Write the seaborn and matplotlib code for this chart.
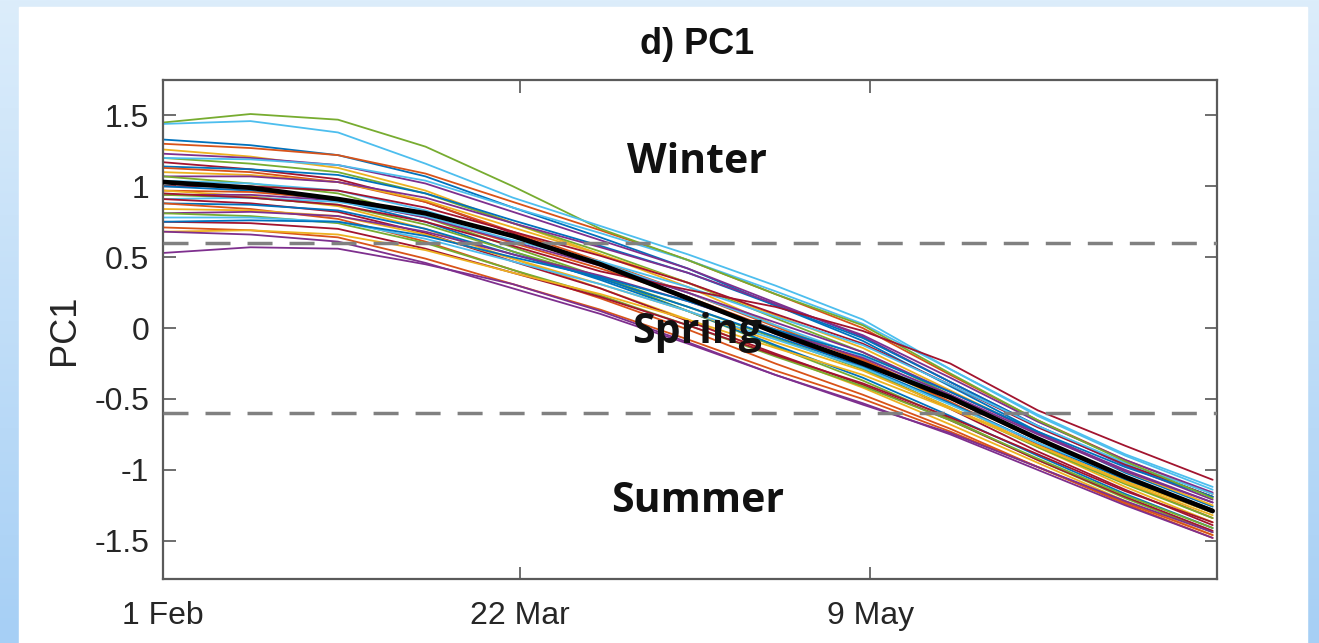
import matplotlib
matplotlib.use('Agg')
import matplotlib.pyplot as plt
from matplotlib.patches import Rectangle
from matplotlib.colors import LinearSegmentedColormap
import seaborn as sns
import numpy as np
import pandas as pd

# sample days since 1 Feb
days = [0, 12, 24, 36, 48, 60, 72, 84, 96, 108, 120, 132, 144]

# ensemble mean (thick black line)
pc1_mean = [1.03, 0.99, 0.91, 0.81, 0.65, 0.45, 0.21, -0.03, -0.25, -0.49, -0.78, -1.05, -1.29]

# ensemble members
pc1_members = [
    [1.33, 1.29, 1.22, 1.07, 0.85, 0.64, 0.42, 0.16, -0.09, -0.41, -0.73, -1.02, -1.26],
    [1.30, 1.27, 1.22, 1.09, 0.89, 0.69, 0.48, 0.24, 0.00, -0.33, -0.65, -0.93, -1.17],
    [1.26, 1.21, 1.13, 0.97, 0.74, 0.52, 0.29, 0.02, -0.23, -0.53, -0.84, -1.12, -1.37],
    [1.23, 1.20, 1.15, 1.02, 0.82, 0.62, 0.42, 0.18, -0.06, -0.38, -0.69, -0.97, -1.21],
    [1.20, 1.16, 1.10, 0.95, 0.74, 0.54, 0.32, 0.07, -0.17, -0.47, -0.78, -1.06, -1.30],
    [1.20, 1.19, 1.15, 1.04, 0.85, 0.67, 0.48, 0.26, 0.03, -0.29, -0.61, -0.89, -1.12],
    [1.17, 1.12, 1.05, 0.89, 0.67, 0.45, 0.22, -0.04, -0.28, -0.57, -0.87, -1.14, -1.39],
    [1.14, 1.12, 1.08, 0.95, 0.76, 0.58, 0.39, 0.16, -0.07, -0.38, -0.69, -0.96, -1.19],
    [1.13, 1.10, 1.03, 0.89, 0.68, 0.47, 0.25, 0.01, -0.23, -0.52, -0.82, -1.09, -1.34],
    [1.10, 1.08, 1.03, 0.90, 0.71, 0.52, 0.32, 0.09, -0.14, -0.44, -0.74, -1.01, -1.25],
    [1.07, 1.07, 1.03, 0.92, 0.74, 0.57, 0.39, 0.17, -0.05, -0.35, -0.66, -0.93, -1.16],
    [1.07, 1.02, 0.95, 0.78, 0.57, 0.36, 0.12, -0.13, -0.37, -0.64, -0.93, -1.20, -1.44],
    [1.04, 1.02, 0.97, 0.83, 0.64, 0.46, 0.25, 0.02, -0.20, -0.49, -0.78, -1.05, -1.28],
    [1.00, 1.00, 0.97, 0.85, 0.68, 0.51, 0.32, 0.10, -0.11, -0.40, -0.70, -0.96, -1.19],
    [1.00, 0.97, 0.90, 0.75, 0.54, 0.34, 0.12, -0.12, -0.35, -0.62, -0.90, -1.17, -1.41],
    [0.97, 0.96, 0.91, 0.78, 0.60, 0.42, 0.22, -0.01, -0.22, -0.50, -0.79, -1.05, -1.28],
    [0.97, 0.93, 0.86, 0.70, 0.49, 0.28, 0.06, -0.19, -0.42, -0.68, -0.95, -1.22, -1.46],
    [0.94, 0.94, 0.90, 0.78, 0.61, 0.44, 0.25, 0.04, -0.17, -0.45, -0.74, -1.00, -1.23],
    [0.94, 0.92, 0.87, 0.73, 0.54, 0.36, 0.15, -0.07, -0.29, -0.56, -0.84, -1.10, -1.34],
    [0.91, 0.92, 0.89, 0.79, 0.62, 0.47, 0.29, 0.08, -0.12, -0.40, -0.69, -0.95, -1.17],
    [0.91, 0.88, 0.82, 0.67, 0.47, 0.28, 0.05, -0.18, -0.40, -0.65, -0.93, -1.19, -1.43],
    [0.88, 0.87, 0.83, 0.70, 0.52, 0.35, 0.15, -0.06, -0.27, -0.53, -0.81, -1.07, -1.30],
    [0.88, 0.84, 0.77, 0.61, 0.41, 0.21, -0.01, -0.25, -0.47, -0.71, -0.98, -1.24, -1.48],
    [0.84, 0.83, 0.79, 0.66, 0.49, 0.31, 0.12, -0.10, -0.30, -0.56, -0.83, -1.09, -1.32],
    [0.81, 0.82, 0.79, 0.68, 0.52, 0.37, 0.19, -0.02, -0.21, -0.47, -0.75, -1.01, -1.23],
    [0.81, 0.79, 0.74, 0.60, 0.41, 0.23, 0.02, -0.20, -0.41, -0.65, -0.92, -1.18, -1.41],
    [0.78, 0.78, 0.75, 0.63, 0.47, 0.31, 0.12, -0.08, -0.28, -0.54, -0.81, -1.05, -1.29],
    [0.75, 0.74, 0.70, 0.56, 0.39, 0.22, 0.02, -0.19, -0.39, -0.63, -0.89, -1.15, -1.37],
    [0.75, 0.76, 0.75, 0.65, 0.50, 0.36, 0.19, -0.01, -0.19, -0.45, -0.73, -0.98, -1.19],
    [0.71, 0.69, 0.64, 0.49, 0.31, 0.13, -0.08, -0.30, -0.50, -0.73, -0.98, -1.23, -1.46],
    [0.68, 0.69, 0.66, 0.55, 0.39, 0.24, 0.06, -0.14, -0.33, -0.57, -0.83, -1.08, -1.30],
    [0.68, 0.66, 0.61, 0.46, 0.28, 0.10, -0.11, -0.33, -0.53, -0.75, -1.00, -1.25, -1.48],
]

# members standing apart from the bundle (green top, cyan top, purple bottom, red late top)
pc1_outliers = [
    [1.45, 1.51, 1.47, 1.28, 1.00, 0.70, 0.48, 0.24, 0.02, -0.32, -0.65, -0.94, -1.20],
    [1.44, 1.46, 1.38, 1.16, 0.92, 0.72, 0.52, 0.30, 0.06, -0.29, -0.62, -0.90, -1.14],
    [0.53, 0.57, 0.56, 0.45, 0.31, 0.12, -0.10, -0.33, -0.54, -0.74, -0.98, -1.22, -1.44],
    [0.95, 0.92, 0.87, 0.75, 0.58, 0.40, 0.27, 0.15, -0.02, -0.25, -0.58, -0.83, -1.07],
]

tick_days = [0, 49, 97]
tick_labels = ['1 Feb', '22 Mar', '9 May']
y_ticks = [-1.5, -1, -0.5, 0, 0.5, 1, 1.5]
y_tick_labels = ['-1.5', '-1', '-0.5', '0', '0.5', '1', '1.5']
season_names = ['Winter', 'Spring', 'Summer']
season_pc1 = [1.17, -0.03, -1.22]
season_day = 73.3
threshold = 0.6

matlab_colors = ['#0072BD', '#D95319', '#EDB120', '#7E2F8E', '#77AC30', '#4DBEEE', '#A2142F']
outlier_colors = ['#77AC30', '#4DBEEE', '#7E2F8E', '#A2142F']

# long table for seaborn
rows = []
palette = {}
for i, vals in enumerate(pc1_members):
    name = 'm%02d' % i
    palette[name] = matlab_colors[i % len(matlab_colors)]
    for d, v in zip(days, vals):
        rows.append({'day': d, 'pc1': v, 'member': name})
for i, vals in enumerate(pc1_outliers):
    name = 'o%02d' % i
    palette[name] = outlier_colors[i]
    for d, v in zip(days, vals):
        rows.append({'day': d, 'pc1': v, 'member': name})
df = pd.DataFrame(rows)
mean_df = pd.DataFrame({'day': days, 'pc1': pc1_mean})

sns.set_style('ticks')
plt.rcParams['font.family'] = ['Liberation Sans', 'DejaVu Sans']

fig = plt.figure(figsize=(13.19, 6.43), dpi=100)

# light blue slide background with white panel
bg = fig.add_axes([0, 0, 1, 1])
cmap = LinearSegmentedColormap.from_list('slide', ['#dcedfb', '#a6cff5'])
bg.imshow(np.linspace(0, 1, 256).reshape(-1, 1), cmap=cmap, aspect='auto',
          extent=[0, 1, 0, 1], origin='upper')
bg.add_patch(Rectangle((19 / 1319, 0), (1307 - 19) / 1319, (643 - 7) / 643,
                       transform=bg.transAxes, color='white', zorder=2))
bg.set_xlim(0, 1)
bg.set_ylim(0, 1)
bg.axis('off')

ax = fig.add_axes([0.1236, 0.0995, 0.7991, 0.7761])
ax.set_facecolor('white')

sns.lineplot(data=df, x='day', y='pc1', hue='member', palette=palette,
             estimator=None, legend=False, linewidth=1.3, ax=ax, zorder=2)
ax.axhline(threshold, color='#808080', linewidth=2.5, dashes=(7.2, 4.9), zorder=3)
ax.axhline(-threshold, color='#808080', linewidth=2.5, dashes=(7.2, 4.9), zorder=3)
sns.lineplot(data=mean_df, x='day', y='pc1', color='black', linewidth=3.4,
             estimator=None, ax=ax, zorder=4)

for name, v in zip(season_names, season_pc1):
    ax.text(season_day, v, name, ha='center', va='center', fontsize=29.5,
            fontweight='bold', family=['Open Sans', 'DejaVu Sans'], color='#111111', zorder=5)

ax.set_xlim(0, 144.6)
ax.set_ylim(-1.77, 1.75)
ax.set_xticks(tick_days)
ax.set_xticklabels(tick_labels)
ax.set_yticks(y_ticks)
ax.set_yticklabels(y_tick_labels)
ax.tick_params(direction='in', length=9, width=1.2, color='#555555', labelcolor='#262626',
               labelsize=23, top=True, right=True)
ax.tick_params(axis='x', pad=16)
ax.tick_params(axis='y', pad=10)
for sp in ax.spines.values():
    sp.set_color('#5a5a5a')
    sp.set_linewidth(1.6)

ax.set_xlabel('')
ax.set_ylabel('PC1', fontsize=26, color='#262626')
ax.yaxis.set_label_coords(-0.077, 0.5)

fig.text(697 / 1319, 1 - 45 / 643, 'd) PC1', ha='center', va='center',
         fontsize=26, fontweight='bold', color='#111111')

fig.savefig('out.png', dpi=100)
